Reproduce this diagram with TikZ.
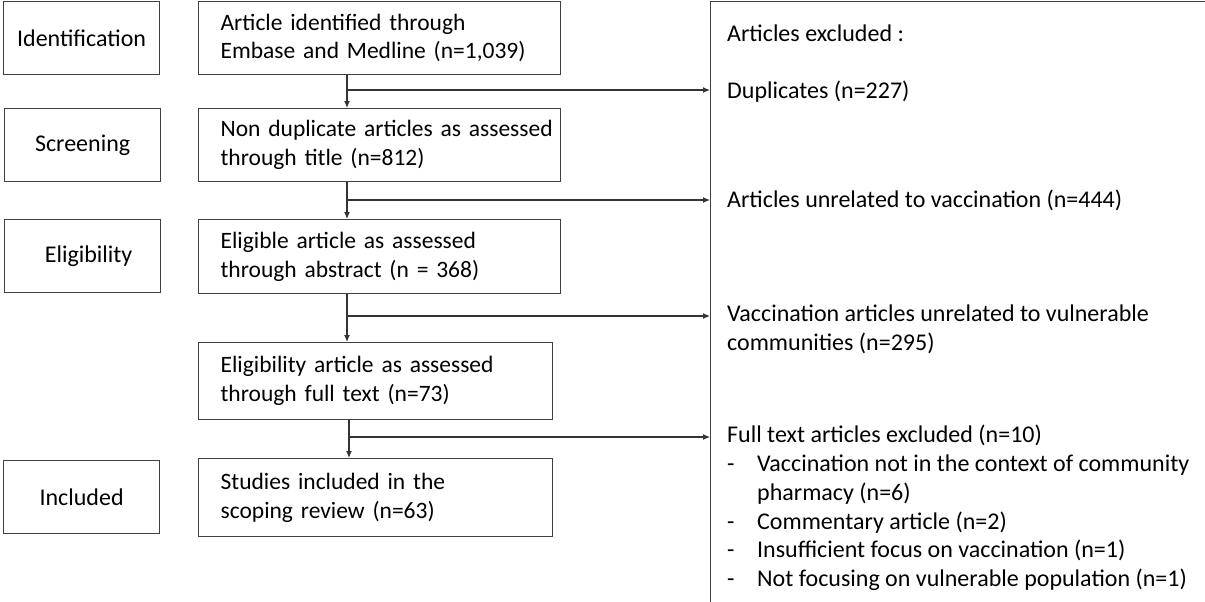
\documentclass[tikz,border=0pt]{standalone}
\usepackage{fontspec}
\setmainfont{Carlito}
\usetikzlibrary{positioning}
\usetikzlibrary{arrows.meta}

\tikzset{
  stagebox/.style={draw=black!75, line width=1.2pt, minimum width=156pt, minimum height=73pt, align=center, anchor=north west, font=\fontsize{24}{28.7}\selectfont},
  flowbox/.style={draw=black!75, line width=1.2pt, anchor=north west, align=left, inner xsep=4pt, execute at begin node={\leftskip=18pt}, font=\fontsize{23.5}{28.7}\selectfont},
  excltext/.style={anchor=west, align=left, inner sep=0pt},
  flow/.style={-{Latex[length=7pt,width=6pt]}, line width=1.1pt, black!80}
}
\newcommand{\dashitem}{\makebox[30pt][l]{-}}

\begin{document}
\begin{tikzpicture}[x=1pt, y=-1pt, font=\fontsize{24}{28.7}\selectfont]
\useasboundingbox (0,0) rectangle (1205,602);
\fill[white] (0,0) rectangle (1205,602);
\clip (0,0) rectangle (1205,602);

% stages
\node[stagebox] (ident) at (3,1) {Identification};
\node[stagebox] (screen) at (4,108) {Screening};
\node[stagebox] (elig) at (4,219) {\hspace*{12pt}Eligibility};
\node[stagebox] (incl) at (3,460) {Included};

% flow boxes
\node[flowbox, text width=354pt, minimum height=73pt] (found) at (198,1) {Article identified through\\Embase and Medline (n=1,039)};
\node[flowbox, text width=354pt, minimum height=73pt] (title) at (198,108) {Non duplicate articles as assessed\\through title (n=812)};
\node[flowbox, text width=354pt, minimum height=74pt] (abstr) at (198,219) {Eligible article as assessed\\through abstract (n = 368)};
\node[flowbox, text width=346pt, minimum height=77pt] (full) at (198,342) {Eligibility article as assessed\\through full text (n=73)};
\node[flowbox, text width=346pt, minimum height=78pt] (studies) at (198,458) {Studies included in the\\scoping review (n=63)};

% excluded articles
\node[draw=black!75, line width=1.2pt, anchor=north west, minimum width=540pt, minimum height=640pt] (excl) at (710,1) {};
\node[excltext] (exhead) at (727,33) {Articles excluded :};
\node[excltext] (exdup) at (727,92) {Duplicates (n=227)};
\node[excltext] (exvacc) at (727,200) {Articles unrelated to vaccination (n=444)};
\node[excltext] (exvuln) at (727,329) {Vaccination articles unrelated to vulnerable\\communities (n=295)};
\node[excltext] (exfull) at (727,508) {Full text articles excluded (n=10)\\
  \dashitem Vaccination not in the context of community\\
  \hspace*{30pt}pharmacy (n=6)\\
  \dashitem Commentary article (n=2)\\
  \dashitem Insufficient focus on vaccination (n=1)\\
  \dashitem Not focusing on vulnerable population (n=1)};

% connectors
\coordinate (split1) at (347,90);
\coordinate (split2) at (347,200);
\coordinate (split3) at (347,316);
\coordinate (split4) at (349,437);
\draw[flow] (found.south -| split1) -- (title.north -| split1);
\draw[flow] (split1) -- (split1 -| excl.west);
\draw[flow] (title.south -| split2) -- (abstr.north -| split2);
\draw[flow] (split2) -- (split2 -| excl.west);
\draw[flow] (abstr.south -| split3) -- (full.north -| split3);
\draw[flow] (split3) -- (split3 -| excl.west);
\draw[flow] (full.south -| split4) -- (studies.north -| split4);
\draw[flow] (split4) -- (split4 -| excl.west);
\end{tikzpicture}
\end{document}
